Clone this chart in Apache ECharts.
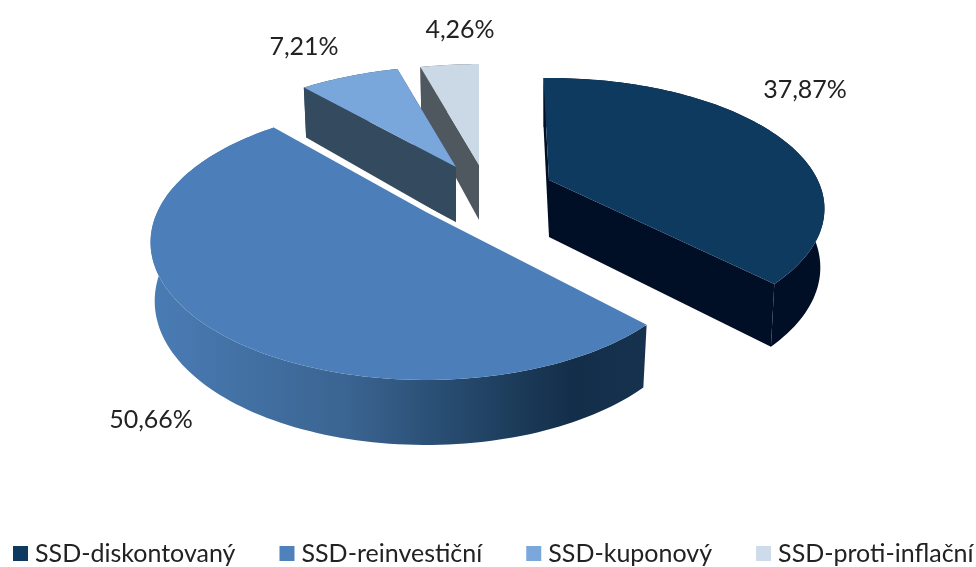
<!DOCTYPE html>
<html>
<head>
<meta charset="utf-8">
<style>html,body{margin:0;padding:0;background:#fff}#c{width:976px;height:567px}</style>
<script src="https://cdn.jsdelivr.net/npm/echarts@6/dist/echarts.min.js"></script>
</head>
<body>
<div id="c"></div>
<script>
const categories = ['SSD-diskontovaný', 'SSD-reinvestiční', 'SSD-kuponový', 'SSD-proti-inflační'];
const shares = [37.87, 50.66, 7.21, 4.26];
const topColors = ['#0f3a60', '#4c7fba', '#7aa7db', '#cbd8e6'];
const legendColors = ['#0f3a60', '#4f81bd', '#7ba7da', '#cddbea'];
const cutColors = ['#000f26', '#17324e', '#344a5e', '#50585f'];
const paintOrder = [3, 4, 2, 1];

// layout of the drawing (not data)
const view = { cx: 480, cy: 192, rx: 268.7, ry: 131, k: 0.22, slope: 8, shrink: 0.985 };
const explode = [[69, -12], [-54, 20], [-24, -25], [-1, -27]];
const flatten = [0.95, 1, 0.94, 0.94];
const twist = [-0.025, 0, 0, 0];
const depth = [57, 57, 56, 55];
const labelPos = [[805, 90], [151, 420], [304, 47], [460, 30]];

const total = shares.reduce((a, b) => a + b, 0);
const starts = shares.map((_, i) => shares.slice(0, i).reduce((a, b) => a + b, 0));

function project(i, apex, theta, bottom) {
  const u = Math.sin(theta), v = -Math.cos(theta);
  const s = 1 / (1 - view.k * v);
  const f = bottom ? view.shrink : 1;
  const h = bottom ? depth[i] + view.slope * v : 0;
  return [apex[0] + view.rx * u * s * f, apex[1] + view.ry * flatten[i] * v * s + h];
}

function rim(i, apex, a0, a1, bottom) {
  const pts = [];
  const n = Math.max(6, Math.ceil((a1 - a0) * 40));
  for (let j = 0; j <= n; j++) pts.push(project(i, apex, a0 + (a1 - a0) * j / n, bottom));
  return pts;
}

function renderSlice(i) {
  return function (params, api) {
    const value = api.value(0);
    const a0 = starts[i] / total * Math.PI * 2 + twist[i];
    const a1 = a0 + value / total * Math.PI * 2;
    const apex = [view.cx + explode[i][0], view.cy + explode[i][1]];
    const apexLow = [apex[0], apex[1] + depth[i]];
    const top = rim(i, apex, a0, a1, false);
    const low = rim(i, apex, a0, a1, true);
    const wallFill = i === 1 ? {
      type: 'linear', x: 0, y: 0, x2: 1, y2: 0,
      colorStops: [
        { offset: 0, color: '#4a7cb5' }, { offset: 0.4, color: '#3a6491' },
        { offset: 0.7, color: '#1f4060' }, { offset: 0.85, color: '#132e49' },
        { offset: 1, color: '#17324e' }
      ]
    } : cutColors[i];
    const poly = (points, fill) => ({ type: 'polygon', shape: { points }, style: { fill } });
    const children = [poly(top.concat(low.slice().reverse()), wallFill)];
    if (i !== 1) {
      children.push(poly([apex, top[top.length - 1], low[low.length - 1], apexLow], cutColors[i]));
      children.push(poly([apex, top[0], low[0], apexLow], cutColors[i]));
    } else {
      children.push({ type: 'polyline', shape: { points: [top[0], top[top.length - 1]] },
        style: { stroke: '#ffffff', lineWidth: 3, fill: null } });
    }
    children.push(poly([apex].concat(top), topColors[i]));
    children.push({ type: 'text', style: {
      text: value.toFixed(2).replace('.', ',') + '%',
      x: labelPos[i][0], y: labelPos[i][1], textAlign: 'center', textVerticalAlign: 'middle',
      fill: '#222222', font: '25px Lato'
    } });
    return { type: 'group', children };
  };
}

const chart = echarts.init(document.getElementById('c'), null, { renderer: 'canvas' });
chart.setOption({
  animation: false,
  backgroundColor: '#ffffff',
  legend: {
    left: 8, top: 536, width: 1100, icon: 'rect', itemWidth: 15, itemHeight: 15, itemGap: 44,
    selectedMode: false, data: categories,
    textStyle: { fontFamily: 'Lato', fontSize: 25, color: '#222222', padding: [0, 0, 0, 2] }
  },
  series: categories.map((name, i) => ({
    type: 'custom', name, coordinateSystem: 'none', silent: true, z: paintOrder[i],
    itemStyle: { color: legendColors[i] },
    data: [[shares[i]]], renderItem: renderSlice(i)
  }))
});
</script>
</body>
</html>
